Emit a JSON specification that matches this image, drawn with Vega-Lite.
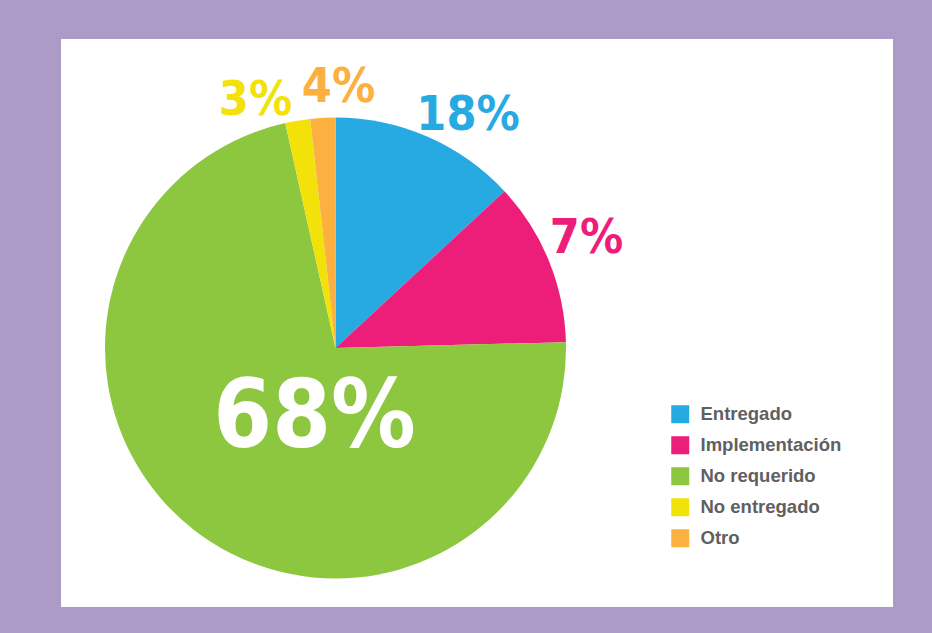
{
  "$schema": "https://vega.github.io/schema/vega-lite/v6.json",
  "width": 832,
  "height": 568,
  "autosize": {"type": "none"},
  "padding": {"left": 61, "top": 39, "right": 39, "bottom": 26},
  "background": "#AC9AC7",
  "config": {"view": {"fill": "#FFFFFF", "stroke": null}},
  "datasets": {
    "slices": [
      {"category": "Entregado", "share": 13.1, "order": 1},
      {"category": "Implementación", "share": 11.5, "order": 2},
      {"category": "No requerido", "share": 71.9, "order": 3},
      {"category": "No entregado", "share": 1.75, "order": 4},
      {"category": "Otro", "share": 1.75, "order": 5}
    ],
    "labels": [
      {"category": "Entregado", "label": "18%", "lx": 132.5, "ly": 218, "big": false},
      {"category": "Implementación", "label": "7%", "lx": 251, "ly": 95, "big": false},
      {"category": "No requerido", "label": "68%", "lx": -21, "ly": -99, "big": true},
      {"category": "No entregado", "label": "3%", "lx": -80, "ly": 233, "big": false},
      {"category": "Otro", "label": "4%", "lx": 3, "ly": 246, "big": false}
    ]
  },
  "layer": [
    {
      "data": {"name": "slices"},
      "mark": {"type": "arc", "outerRadius": 230.5, "stroke": null},
      "encoding": {
        "x": {"datum": 0, "type": "quantitative", "scale": {"domain": [-274.5, 557.5], "zero": false, "nice": false}, "axis": null},
        "y": {"datum": 0, "type": "quantitative", "scale": {"domain": [-259, 309], "zero": false, "nice": false}, "axis": null},
        "theta": {"field": "share", "type": "quantitative", "stack": true},
        "order": {"field": "order", "type": "quantitative"},
        "color": {
          "field": "category",
          "type": "nominal",
          "scale": {
            "domain": ["Entregado", "Implementación", "No requerido", "No entregado", "Otro"],
            "range": ["#27AAE1", "#ED1E79", "#8DC63F", "#F2E20A", "#FBB040"]
          },
          "legend": {
            "title": null,
            "orient": "none",
            "legendX": 610,
            "legendY": 366,
            "padding": 0,
            "symbolType": "square",
            "symbolSize": 324,
            "symbolStrokeWidth": 0,
            "labelFont": "Liberation Sans",
            "labelFontWeight": "bold",
            "labelFontSize": 18.5,
            "labelColor": "#5F6062",
            "labelOffset": 11,
            "rowPadding": 12,
            "labelLimit": 300
          }
        }
      }
    },
    {
      "data": {"name": "labels"},
      "transform": [{"filter": "!datum.big"}],
      "mark": {"type": "text", "font": "DejaVu Sans Condensed", "fontWeight": "bold", "fontSize": 48, "align": "center", "baseline": "alphabetic"},
      "encoding": {
        "x": {"field": "lx", "type": "quantitative"},
        "y": {"field": "ly", "type": "quantitative"},
        "text": {"field": "label"},
        "color": {"field": "category", "type": "nominal", "legend": null}
      }
    },
    {
      "data": {"name": "labels"},
      "transform": [{"filter": "datum.big"}],
      "mark": {"type": "text", "font": "DejaVu Sans Condensed", "fontWeight": "bold", "fontSize": 94, "align": "center", "baseline": "alphabetic", "color": "#FFFFFF"},
      "encoding": {
        "x": {"field": "lx", "type": "quantitative"},
        "y": {"field": "ly", "type": "quantitative"},
        "text": {"field": "label"}
      }
    }
  ]
}
